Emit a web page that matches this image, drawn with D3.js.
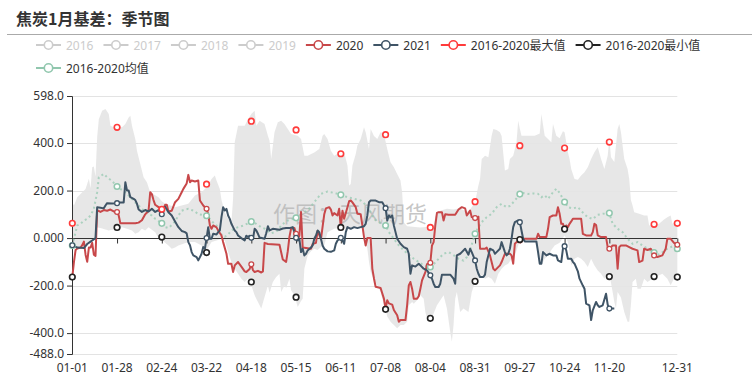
<!DOCTYPE html>
<html><head><meta charset="utf-8">
<script src="https://cdn.jsdelivr.net/npm/d3@7"></script>
<style>
body{margin:0;background:#fff}
svg{display:block}
text{font-family:"Noto Sans","Noto Sans CJK SC",sans-serif}
</style>
</head><body>
<svg id="chart" width="752" height="378"></svg>
<script>
// ---------------- DATA ----------------
const titleText = "焦炭1月基差：季节图";
const watermark = "作图：天风期货";
const legendNames = ["2016","2017","2018","2019","2020","2021","2016-2020最大值","2016-2020最小值","2016-2020均值"];
const legendActive = [false,false,false,false,true,true,true,true,true];
// categories: every day of a leap year, "MM-DD"
const categories = d3.timeDay.range(new Date(2020,0,1), new Date(2021,0,1)).map(d3.timeFormat("%m-%d"));
const xTickLabels = ["01-01","01-28","02-24","03-22","04-18","05-15","06-11","07-08","08-04","08-31","09-27","10-24","11-20","12-31"];
const markerLabels = ["01-01","01-28","02-24","03-22","04-18","05-15","06-11","07-08","08-04","08-31","09-27","10-24","11-20","12-17","12-31"];
const yTickValues = [598,400,200,0,-200,-400,-488];
const yTickLabels = ["598.0","400.0","200.0","0.000","-200.0","-400.0","-488.0"];

// [day index, value]
const s2020 = [[0,-164],[1,-100],[2,-50],[3,-44],[5,-40],[6,-30],[7,-15],[8,-70],[9,-100],[10,-40],[11,-40],[12,-20],[13,-70],[14,-75],[15,118],[17,110],[19,118],[21,115],[23,120],[25,112],[27,110],[28,95],[29,62],[38,62],[40,65],[42,75],[44,100],[46,115],[47,193],[48,185],[49,160],[50,140],[52,130],[54,122],[55,125],[56,140],[57,140],[58,112],[60,115],[62,151],[64,165],[66,193],[67,207],[69,230],[70,266],[71,235],[72,242],[74,238],[76,242],[77,158],[79,137],[81,123],[82,100],[83,53],[84,39],[85,53],[87,45],[88,32],[90,11],[91,-17],[93,-66],[94,-108],[96,-108],[97,-143],[98,-115],[100,-101],[102,-120],[104,-140],[105,-143],[107,-130],[108,-110],[109,-135],[110,-143],[112,-138],[114,-145],[115,-140],[116,-20],[118,-25],[125,-28],[126,-60],[127,-90],[129,-100],[130,-55],[131,5],[132,40],[134,42],[135,18],[136,-3],[137,10],[138,110],[139,-40],[144,-45],[145,-25],[147,-20],[148,30],[150,-5],[152,100],[153,125],[155,130],[156,120],[157,95],[158,105],[160,95],[161,123],[162,45],[163,115],[164,81],[166,130],[167,155],[168,158],[169,150],[171,130],[172,102],[174,100],[175,53],[176,4],[177,-31],[178,0],[180,0],[181,-129],[182,-170],[183,-205],[186,-210],[188,-255],[189,-297],[190,-262],[191,-275],[193,-280],[194,-303],[196,-325],[197,-352],[198,-345],[201,-345],[202,-283],[203,-199],[204,-185],[205,-213],[206,-255],[208,-255],[209,-245],[210,-213],[211,-178],[213,-143],[214,-110],[216,-104],[217,-31],[218,-17],[219,53],[220,106],[221,109],[223,109],[224,74],[225,100],[227,98],[231,98],[233,120],[235,130],[237,125],[238,95],[239,105],[240,116],[241,88],[243,84],[244,80],[245,90],[246,-45],[249,-45],[250,-40],[252,-73],[254,-129],[255,-136],[258,-115],[259,-101],[261,-66],[264,-66],[265,-73],[266,-108],[267,-24],[268,-17],[270,-10],[271,-12],[272,-3],[280,-3],[281,18],[282,4],[286,4],[287,39],[288,88],[290,95],[292,95],[293,130],[294,102],[295,60],[296,60],[297,39],[298,53],[299,46],[300,60],[301,70],[302,81],[307,81],[308,18],[310,11],[313,11],[314,25],[315,60],[316,55],[317,11],[319,4],[322,4],[323,-38],[324,-45],[325,-38],[326,-31],[328,-31],[329,-129],[330,-38],[331,-31],[334,-31],[336,-38],[338,-45],[341,-52],[342,-101],[344,-95],[345,-45],[347,-50],[349,-45],[351,-73],[353,-80],[356,-73],[358,-45],[359,-3],[361,-3],[363,-20],[365,-28]];

const s2021 = [[0,-30],[3,-40],[7,-42],[9,-25],[11,-15],[12,-10],[14,0],[15,130],[17,128],[19,125],[20,137],[21,147],[24,145],[27,147],[29,150],[31,150],[32,235],[33,200],[34,200],[35,172],[37,165],[38,160],[39,145],[40,120],[42,110],[44,118],[46,112],[48,123],[50,110],[52,118],[54,100],[55,120],[56,132],[58,109],[60,95],[62,70],[64,46],[66,30],[68,25],[69,20],[70,-17],[71,-30],[72,-59],[73,-73],[75,-80],[76,-94],[77,-80],[78,-66],[79,-38],[80,-45],[81,0],[82,46],[83,-3],[84,-3],[85,18],[87,15],[88,25],[89,32],[90,88],[91,130],[92,116],[93,123],[94,95],[95,81],[96,60],[97,46],[98,32],[99,25],[100,11],[102,0],[104,-10],[105,10],[106,5],[107,10],[108,1],[109,-3],[110,39],[111,32],[112,18],[113,2],[116,-3],[117,20],[118,50],[119,32],[121,39],[125,35],[127,40],[129,42],[131,42],[133,46],[134,25],[135,1],[136,-10],[137,-3],[138,-59],[139,-45],[140,-73],[141,-66],[142,-52],[144,-40],[145,-31],[146,-3],[147,11],[148,32],[149,25],[150,-3],[151,-31],[152,-45],[154,-56],[156,-58],[158,-52],[159,-24],[160,-10],[162,1],[163,-10],[164,-24],[165,25],[166,46],[168,39],[170,46],[172,42],[174,46],[176,50],[177,60],[178,95],[179,151],[180,158],[183,158],[185,151],[187,151],[189,126],[190,74],[191,95],[192,88],[193,95],[194,53],[195,25],[196,-3],[198,-24],[200,-38],[202,-45],[203,-66],[204,-150],[205,-115],[207,-120],[209,-108],[210,-115],[212,-129],[214,-136],[216,-157],[217,-171],[218,-192],[219,-206],[221,-206],[222,-192],[223,-154],[228,-154],[230,-171],[231,-192],[232,-73],[234,-66],[235,-59],[237,-45],[239,-70],[240,-45],[241,-59],[243,-94],[244,-129],[245,-150],[246,-164],[248,-164],[249,-154],[250,-101],[251,-73],[252,-45],[254,-52],[255,-66],[256,-59],[258,-45],[259,-17],[260,-38],[261,-59],[262,-73],[263,-66],[264,-45],[265,-3],[266,46],[267,67],[269,74],[270,67],[271,32],[272,-3],[273,-14],[280,-14],[281,-59],[282,-108],[283,-108],[284,-59],[286,-73],[288,-66],[290,-73],[292,-73],[293,-94],[295,-101],[296,-45],[297,-34],[298,-52],[299,-87],[301,-87],[302,-100],[303,-108],[305,-140],[306,-171],[308,-200],[309,-213],[310,-276],[312,-283],[313,-345],[314,-304],[316,-269],[317,-283],[318,-290],[320,-283],[322,-234],[323,-280],[324,-297],[327,-297]];

const sMean = [[0,-31],[2,25],[3,53],[5,60],[7,74],[9,81],[11,95],[13,123],[15,193],[16,256],[19,270],[21,256],[24,240],[27,217],[29,207],[32,193],[35,172],[38,150],[41,130],[44,110],[46,102],[48,95],[50,81],[52,72],[54,62],[56,46],[58,42],[60,55],[62,70],[64,95],[66,115],[68,120],[70,123],[72,118],[74,112],[76,100],[78,98],[80,95],[81,94],[83,80],[85,65],[87,53],[89,30],[90,15],[92,5],[94,15],[96,32],[98,40],[100,46],[103,52],[106,62],[108,69],[111,60],[114,45],[116,40],[118,30],[120,20],[122,25],[124,32],[126,53],[128,65],[130,74],[135,85],[138,100],[142,116],[146,151],[150,186],[154,196],[158,190],[162,182],[166,172],[170,165],[174,158],[177,140],[180,109],[182,80],[185,67],[187,60],[189,53],[191,25],[194,-3],[197,-31],[200,-52],[203,-70],[206,-87],[209,-101],[212,-115],[216,-122],[218,-110],[221,-87],[224,-66],[227,-59],[230,-72],[233,-87],[236,-95],[238,-80],[240,-50],[243,18],[245,46],[247,67],[250,88],[253,102],[256,130],[259,144],[262,130],[264,135],[267,158],[270,185],[272,190],[275,186],[278,188],[281,186],[283,172],[285,180],[287,165],[290,193],[292,207],[294,190],[297,152],[299,130],[302,125],[305,130],[307,115],[309,100],[311,88],[314,80],[317,98],[320,102],[324,105],[326,60],[329,39],[332,25],[335,-3],[338,-24],[341,-17],[344,-31],[347,-45],[351,-61],[354,-70],[357,-55],[359,-45],[362,-35],[365,-45]];

const bandHi = [[0,150],[1,137],[3,172],[6,193],[8,207],[10,250],[11,210],[12,298],[13,301],[14,259],[15,424],[16,500],[18,536],[20,543],[22,522],[23,473],[25,466],[28,470],[30,466],[32,480],[34,508],[35,515],[36,473],[38,417],[39,368],[41,312],[43,256],[45,235],[47,193],[50,180],[52,172],[54,155],[56,144],[58,140],[62,130],[66,137],[70,144],[74,179],[78,193],[80,207],[82,221],[84,249],[86,263],[87,242],[89,207],[90,160],[92,109],[94,81],[96,67],[97,165],[98,403],[100,473],[104,473],[106,500],[108,522],[110,536],[111,473],[113,494],[116,480],[118,431],[119,410],[120,333],[122,445],[124,487],[126,494],[128,480],[130,459],[132,438],[136,431],[138,417],[140,347],[142,347],[146,360],[149,375],[151,431],[152,438],[154,417],[156,368],[158,347],[160,355],[162,368],[164,361],[166,305],[167,221],[168,228],[169,305],[171,354],[172,390],[174,417],[176,466],[177,445],[179,375],[180,459],[182,430],[184,417],[186,445],[188,438],[190,375],[192,319],[194,298],[196,270],[198,242],[199,193],[200,67],[202,50],[210,45],[218,50],[219,90],[220,109],[222,115],[226,123],[230,120],[234,125],[238,110],[240,120],[243,151],[245,221],[246,249],[247,333],[249,347],[251,340],[253,431],[254,459],[256,455],[258,445],[259,430],[261,284],[263,291],[264,333],[266,347],[268,403],[269,494],[270,460],[271,431],[279,431],[282,440],[283,522],[285,431],[287,417],[289,403],[290,480],[292,431],[294,420],[296,450],[297,445],[299,361],[300,333],[301,291],[303,249],[305,245],[307,263],[309,277],[311,298],[313,333],[315,361],[317,382],[319,333],[321,291],[323,347],[324,417],[325,340],[327,320],[329,459],[330,480],[331,445],[333,333],[335,291],[336,249],[337,160],[338,137],[339,109],[342,102],[345,95],[347,95],[348,53],[351,58],[354,60],[357,78],[359,88],[361,95],[362,60],[364,66],[365,60]];

const bandLo = [[0,-45],[7,-31],[11,-17],[14,-3],[15,46],[18,40],[22,32],[26,38],[30,46],[33,39],[36,32],[38,18],[40,25],[42,39],[44,32],[46,46],[48,35],[50,25],[52,0],[54,-5],[56,-20],[58,-31],[60,-45],[62,-40],[64,-31],[67,-24],[70,-17],[74,-17],[78,-31],[80,-59],[82,-40],[84,-17],[87,-10],[90,-3],[92,-10],[94,-59],[96,-101],[98,-129],[100,-150],[102,-171],[104,-185],[106,-171],[108,-199],[110,-241],[111,-255],[113,-283],[114,-297],[116,-248],[118,-200],[119,-230],[121,-185],[123,-164],[125,-150],[126,-227],[128,-200],[129,-210],[131,-171],[132,-220],[134,-241],[136,-290],[138,-265],[139,-255],[140,-129],[142,-73],[144,-55],[146,-45],[148,-50],[150,-38],[152,-30],[154,25],[158,39],[162,43],[166,39],[170,46],[174,46],[176,25],[178,-45],[179,-100],[180,-143],[182,-175],[184,-199],[186,-227],[188,-283],[189,-303],[190,-330],[192,-352],[194,-366],[196,-380],[198,-366],[200,-366],[202,-352],[203,-283],[205,-269],[206,-276],[208,-262],[210,-241],[212,-255],[213,-311],[214,-338],[216,-352],[218,-318],[220,-283],[222,-262],[224,-241],[226,-297],[228,-394],[229,-436],[230,-366],[231,-255],[232,-227],[234,-311],[236,-297],[239,-311],[241,-227],[243,-185],[245,-171],[247,-157],[249,-171],[251,-164],[253,-171],[255,-192],[257,-150],[259,-129],[261,-115],[263,-108],[265,-87],[267,-73],[269,-31],[270,-10],[276,-10],[279,-17],[281,-59],[283,-115],[285,-87],[287,-73],[289,-50],[291,-31],[294,-20],[297,11],[299,-17],[300,-59],[301,-115],[303,-87],[305,-80],[307,-87],[309,-101],[311,-122],[313,-87],[315,-115],[317,-136],[319,-150],[321,-171],[323,-145],[324,-150],[326,-227],[327,-269],[328,-297],[329,-227],[331,-250],[333,-311],[335,-352],[336,-352],[337,-283],[338,-185],[340,-171],[341,-213],[343,-213],[345,-171],[347,-185],[350,-171],[353,-160],[356,-150],[359,-171],[361,-199],[363,-170],[365,-171]];

// values shown as symbols at the label interval
const maxAtMarkers = [62,466,121,227,492,455,355,435,45,153,389,379,404,58,62];
const minAtMarkers = [-164,45,4,-61,-185,-249,45,-300,-338,-182,-6,38,-162,-162,-164];

// ---------------- STYLE ----------------
const C = {
  c2020:"#c8484a", c2021:"#3f5466", max:"#ff3b3b", min:"#222", mean:"#91c7ae",
  off:"#cccccc", band:"#e4e4e4", grid:"#e3e3e3", axis:"#333", text:"#333"
};
const legendColors = [C.off,C.off,C.off,C.off,C.c2020,C.c2021,C.max,C.min,C.mean];

const svg = d3.select("#chart");
const W = 752, H = 378;
const plot = {left:72.3, right:677.3, top:96, bottom:354};

const x = d3.scalePoint().domain(categories).range([plot.left, plot.right]);
const y = d3.scaleLinear().domain([-488, 598]).range([plot.bottom, plot.top]);
const xi = i => x(categories[i]);

// title
svg.append("text").attr("x",16).attr("y",25).attr("font-size",16).attr("font-weight","bold")
  .attr("fill","#333").style("font-family",'"Noto Sans CJK SC",sans-serif').text(titleText);
svg.append("line").attr("x1",7).attr("x2",W).attr("y1",34.5).attr("y2",34.5)
  .attr("stroke","#aaa").attr("stroke-width",1);

// legend
(function(){
  let lx = 36, ly = 45;
  legendNames.forEach((name,i)=>{
    const g = svg.append("g");
    const t = g.append("text").attr("font-size",12).attr("fill", legendActive[i]? C.text : C.off)
      .attr("dominant-baseline","central").text(name);
    const tw = t.node().getComputedTextLength();
    const itemW = 25 + 5 + tw;
    if (lx + itemW > 740) { lx = 36; ly += 23; }
    t.attr("x", lx + 30).attr("y", ly);
    g.append("line").attr("x1",lx).attr("x2",lx+25).attr("y1",ly).attr("y2",ly)
      .attr("stroke",legendColors[i]).attr("stroke-width",2);
    g.append("circle").attr("cx",lx+12.5).attr("cy",ly).attr("r",4.2)
      .attr("fill","#fff").attr("stroke",legendColors[i]).attr("stroke-width",1.6);
    lx += itemW + 10;
  });
})();

// grid
svg.append("g").selectAll("line").data(yTickValues.filter(v=>v!==0)).join("line")
  .attr("x1",plot.left).attr("x2",plot.right)
  .attr("y1",d=>Math.round(y(d))+0.5).attr("y2",d=>Math.round(y(d))+0.5)
  .attr("stroke",C.grid).attr("stroke-width",1);

// band between lowest and highest of 2016-2020
const bandPts = bandHi.map(d=>[xi(d[0]), y(d[1])])
  .concat(bandLo.slice().reverse().map(d=>[xi(d[0]), y(d[1])]));
svg.append("path").attr("d", d3.line()(bandPts)+"Z")
  .attr("fill",C.band).attr("fill-opacity",0.9).attr("stroke","none");

// watermark
svg.append("text").attr("x",350).attr("y",212).attr("text-anchor","middle")
  .attr("dominant-baseline","central").attr("font-size",22).attr("fill","#b4b4b4")
  .attr("fill-opacity",0.75).style("font-family",'"Noto Sans CJK SC",sans-serif').text(watermark);

// y axis
const yAxis = d3.axisLeft(y).tickValues(yTickValues).tickSize(5).tickPadding(3)
  .tickFormat((d,i)=>yTickLabels[i]);
const gy = svg.append("g").attr("transform",`translate(${plot.left-0.3},0)`).call(yAxis);
gy.select(".domain").attr("stroke",C.axis);
gy.selectAll(".tick line").attr("stroke",C.axis);
gy.selectAll(".tick text").attr("font-size",12).attr("fill",C.text)
  .attr("font-family",'"Noto Sans","Noto Sans CJK SC",sans-serif');

// x axis on zero
const xAxis = d3.axisBottom(x).tickValues(xTickLabels).tickSize(5).tickFormat(()=>"");
const gx = svg.append("g").attr("transform",`translate(0,${Math.round(y(0))+0.5})`).call(xAxis);
gx.select(".domain").attr("stroke",C.axis).attr("d",`M${plot.left},0H${plot.right}`);
gx.selectAll(".tick line").attr("stroke",C.axis);
// x labels at bottom
svg.append("g").selectAll("text").data(xTickLabels).join("text")
  .attr("x",d=>x(d)).attr("y",367).attr("text-anchor","middle").attr("dominant-baseline","central")
  .attr("font-size",12).attr("fill",C.text).text(d=>d);

// lines
const line = d3.line().x(d=>xi(d[0])).y(d=>y(d[1]));
svg.append("path").attr("d",line(sMean)).attr("fill","none").attr("stroke",C.mean)
  .attr("stroke-width",2).attr("stroke-dasharray","2,3").attr("opacity",0.7);
svg.append("path").attr("d",line(s2020)).attr("fill","none").attr("stroke",C.c2020)
  .attr("stroke-width",2).attr("stroke-linejoin","round");
svg.append("path").attr("d",line(s2021)).attr("fill","none").attr("stroke",C.c2021)
  .attr("stroke-width",2).attr("stroke-linejoin","round");

// markers
const markerIdx = markerLabels.map(l=>categories.indexOf(l));
function interp(series){
  const f = d3.scaleLinear().domain(series.map(d=>d[0])).range(series.map(d=>d[1]));
  const last = series[series.length-1][0];
  return markerIdx.filter(i=>i<=last).map(i=>[i,f(i)]);
}
function drawMarkers(pts, color, r, sw){
  svg.append("g").selectAll("circle").data(pts).join("circle")
    .attr("cx",d=>xi(d[0])).attr("cy",d=>y(d[1])).attr("r",r)
    .attr("fill","#fff").attr("stroke",color).attr("stroke-width",sw);
}
drawMarkers(interp(sMean), C.mean, 2.8, 1.5);
drawMarkers(interp(s2020), C.c2020, 2.4, 1.3);
drawMarkers(interp(s2021), C.c2021, 2.4, 1.3);
drawMarkers(markerIdx.map((i,k)=>[i,maxAtMarkers[k]]), C.max, 2.8, 1.6);
drawMarkers(markerIdx.map((i,k)=>[i,minAtMarkers[k]]), C.min, 2.8, 1.6);
</script>
</body></html>
